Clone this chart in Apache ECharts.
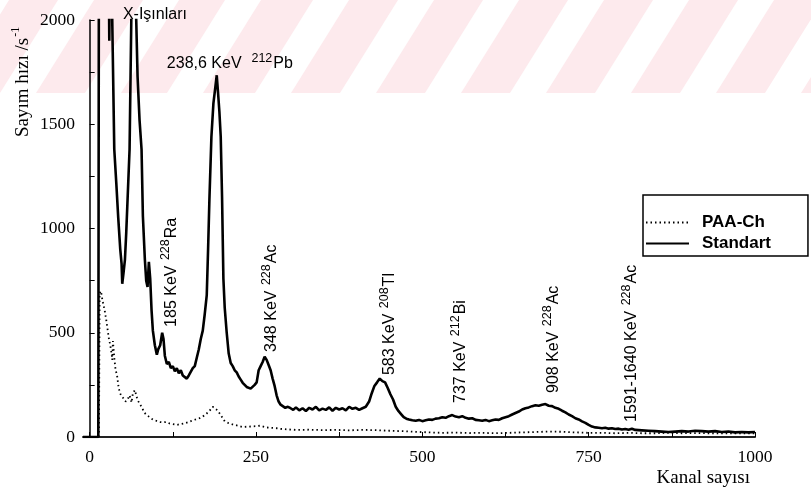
<!DOCTYPE html>
<html>
<head>
<meta charset="utf-8">
<script src="https://cdn.jsdelivr.net/npm/echarts@6/dist/echarts.min.js"></script>
<style>
html,body{margin:0;padding:0;background:#fff;}
#c{width:811px;height:494px;}
</style>
</head>
<body>
<div id="c"></div>
<script>
// ---- Data ----
const seriesNames = ['PAA-Ch', 'Standart'];
const xTickLabels = [0, 250, 500, 750, 1000];
const xTickMarks = [0, 125, 250, 375, 500, 625, 750, 875, 1000];

// Standart spectrum: channel, count rate (values above 2000 are off the chart)
const stdChannels = [-10,13,14,28,29.5,31,34,37,40,43,46,48,49,51,53,55,57,60,63,66,69,70,72,75,78,80,83,85,87,89,90,91,93,95,98,101,103,106,109,111,113,116,119,122,125,128,131,134,137,140,143,146,149,152,155,158,161,164,167,170,173,176,178,180,183,186,189,191,193,195,197,199,201,203,206,209,212,215,218,221,224,227,230,233,236,239,242,245,248,251,254,257,260,263,266,269,272,275,278,281,284,287,290,294,298,302,306,310,315,320,325,330,335,340,345,350,355,360,365,370,375,380,385,390,395,400,405,410,415,420,424,428,432,436,440,444,448,452,456,460,464,468,472,476,480,485,490,495,500,505,510,515,520,525,530,535,540,545,550,555,560,565,570,575,580,585,590,595,600,605,610,615,620,625,630,635,640,645,650,655,660,665,670,675,680,685,690,695,700,705,710,715,720,725,730,735,740,745,750,755,760,765,770,775,780,785,790,795,800,805,810,815,820,830,840,850,860,870,880,890,900,910,920,930,940,950,960,970,980,990,1000];
const stdCounts = [0,0,2600,2600,1900,2600,2600,1380,1220,1050,900,830,735,790,850,980,1140,1380,2100,2600,2600,2000,1730,1520,1380,1060,850,750,720,840,800,760,610,510,440,395,420,440,500,470,390,350,360,330,340,315,330,305,320,295,300,280,295,300,330,340,380,420,470,510,590,680,900,1140,1440,1600,1680,1735,1650,1560,1440,1150,760,620,500,400,355,340,320,310,290,275,260,250,240,245,232,240,250,262,320,340,360,385,370,345,320,280,245,200,170,155,150,140,145,138,130,142,128,138,125,140,132,145,128,136,130,142,126,140,132,138,128,145,135,140,130,138,145,170,210,245,262,280,268,262,235,205,180,145,125,110,95,88,84,80,78,82,76,80,84,82,88,90,95,92,100,105,98,95,100,92,88,90,82,80,78,82,76,80,84,82,90,95,100,108,115,122,132,138,142,148,152,150,155,158,150,148,140,135,126,118,108,100,90,84,75,68,58,50,46,44,42,44,40,42,38,40,36,38,35,40,34,32,30,28,26,24,26,28,26,30,28,26,28,24,26,22,24,22,24];

// PAA-Ch spectrum: channel, count rate
const paaChannels = [14,15,17,19,21,23,25,27,29,31,33,34,35,36,37,39,41,43,45,48,51,54,57,60,63,65,68,70,72,75,78,81,84,88,92,96,100,105,110,115,120,125,131,137,143,149,155,160,165,170,175,180,185,188,192,196,200,203,208,215,222,230,240,250,256,265,273,281,290,300,311,330,350,370,390,410,430,450,470,490,510,530,550,570,590,610,630,650,670,690,710,730,750,770,790,810,830,850,870,890,910,930,950,970,990,1000];
const paaCounts = [0,690,700,660,630,600,560,515,470,440,400,370,460,420,380,320,300,250,215,195,185,170,180,200,165,210,225,200,178,160,145,125,110,100,90,82,78,72,70,72,65,62,58,62,66,72,80,85,90,98,110,125,145,138,128,110,90,75,68,60,55,48,50,52,54,46,44,42,38,36,34,35,33,34,32,34,33,30,28,25,22,20,21,19,20,18,20,22,24,26,25,22,20,20,18,20,18,18,20,18,19,18,18,17,18,18];

// Peak annotations: text parts and anchor (channel, count rate)
const annMain = ['185 KeV ', '348 KeV ', '583 KeV ', '737 KeV ', '908 KeV ', '1591-1640 KeV '];
const annIso  = ['228', '228', '208', '212', '228', '228'];
const annElem = ['Ra', 'Ac', 'Tl', 'Bi', 'Ac', 'Ac'];
const annCh   = [120, 271, 448, 555, 694, 812];
const annVal  = [528, 408, 297, 163, 211, 72];

const pbLabel = {main: '238,6 KeV  ', iso: '212', elem: 'Pb', ch: 116, val: 1800};
const xrayLabel = {text: 'X-Işınları', ch: 50, val: 2024};

const yTitle = 'Sayım hızı /s';
const xTitle = 'Kanal sayısı';

// ---- Build chart ----
const zip = (a, b) => a.map((v, i) => [v, b[i]]);
const chart = echarts.init(document.getElementById('c'), null, {renderer: 'canvas'});

const serif = 'Liberation Serif';
const sans = 'Liberation Sans';
const richAnn = {
  m: {fontFamily: sans, fontSize: 16, color: '#000', verticalAlign: 'bottom', lineHeight: 20},
  s: {fontFamily: sans, fontSize: 12.5, color: '#000', verticalAlign: 'top', lineHeight: 12, padding: [0, 1, 0, 1]}
};

const option = {
  backgroundColor: '#fff',
  animation: false,
  grid: {left: 83, right: 56, top: 20, bottom: 57},
  legend: {
    orient: 'vertical', left: 643, top: 195,
    padding: [19, 37, 4, 2], itemWidth: 43, itemHeight: 14, itemGap: 4,
    borderColor: '#000', borderWidth: 1.5,
    itemStyle: {opacity: 0, borderWidth: 0},
    textStyle: {fontFamily: sans, fontSize: 17, fontWeight: 'bold', color: '#000', padding: [0, 0, 0, 8]},
    data: seriesNames
  },
  xAxis: {
    type: 'value', min: -10, max: 1000,
    axisLine: {show: true, lineStyle: {color: '#222', width: 2}},
    axisTick: {show: true, inside: true, length: 5, customValues: xTickMarks, lineStyle: {color: '#000'}},
    axisLabel: {customValues: xTickLabels, fontFamily: serif, fontSize: 17.5, color: '#000', margin: 11, formatter: v => String(v)},
    splitLine: {show: false}
  },
  yAxis: {
    type: 'value', min: 0, max: 2000, interval: 500,
    axisLine: {show: true, lineStyle: {color: '#000', width: 1.5}},
    axisTick: {show: true, inside: true, length: 5, lineStyle: {color: '#000'}},
    minorTick: {show: true, splitNumber: 2, length: 5, lineStyle: {color: '#000'}},
    axisLabel: {fontFamily: serif, fontSize: 17.5, color: '#000', margin: 8, formatter: v => String(v)},
    splitLine: {show: false}
  },
  series: [
    {
      name: seriesNames[0], type: 'line', showSymbol: false, symbol: 'none',
      data: zip(paaChannels, paaCounts),
      lineStyle: {color: '#000', width: 1.8, type: [1.5, 3]},
      itemStyle: {color: '#000'}, z: 3
    },
    {
      name: seriesNames[1], type: 'line', showSymbol: false, symbol: 'none',
      data: zip(stdChannels, stdCounts),
      lineStyle: {color: '#000', width: 2.6},
      itemStyle: {color: '#000'}, z: 4
    }
  ]
};
chart.setOption(option);

// ---- Decorative background watermark + annotations (positioned through the axes) ----
const graphics = [];
graphics.push({type: 'rect', z: -10, silent: true, shape: {x: 0, y: 0, width: 811, height: 93}, style: {fill: '#fdeaed'}});
const stripeTops = [-27, 58, 143, 225, 313, 398, 483, 568, 653, 738, 823];
stripeTops.forEach(t => {
  graphics.push({type: 'polygon', z: -9, silent: true,
    shape: {points: [[t, 0], [t + 36, 0], [t + 36 - 58, 93], [t - 58, 93]]},
    style: {fill: '#ffffff'}});
});

annMain.forEach((m, i) => {
  const p = chart.convertToPixel({gridIndex: 0}, [annCh[i], annVal[i]]);
  graphics.push({
    type: 'text', x: p[0], y: p[1], rotation: Math.PI / 2, z: 10,
    style: {text: '{m|' + m + '}{s|' + annIso[i] + '}{m|' + annElem[i] + '}', rich: richAnn, align: 'left', verticalAlign: 'middle'}
  });
});
{
  const p = chart.convertToPixel({gridIndex: 0}, [pbLabel.ch, pbLabel.val]);
  graphics.push({type: 'text', x: p[0], y: p[1], z: 10,
    style: {text: '{m|' + pbLabel.main + '}{s|' + pbLabel.iso + '}{m|' + pbLabel.elem + '}', rich: richAnn, align: 'left', verticalAlign: 'middle'}});
  const q = chart.convertToPixel({gridIndex: 0}, [xrayLabel.ch, xrayLabel.val]);
  graphics.push({type: 'text', x: q[0], y: q[1], z: 10,
    style: {text: xrayLabel.text, fontFamily: sans, fontSize: 16, fill: '#000', align: 'left', verticalAlign: 'middle'}});
}
// axis titles
graphics.push({type: 'text', x: 21, y: 137, rotation: Math.PI / 2, z: 10,
  style: {text: '{t|' + yTitle + '}{u|-1}', align: 'left', verticalAlign: 'middle',
    rich: {t: {fontFamily: serif, fontSize: 19, color: '#000', verticalAlign: 'bottom', lineHeight: 23},
           u: {fontFamily: serif, fontSize: 12, color: '#000', verticalAlign: 'top', lineHeight: 12, padding: [0, 0, 0, 1]}}}});
graphics.push({type: 'text', x: 750, y: 478, z: 10,
  style: {text: xTitle, fontFamily: serif, fontSize: 19, fill: '#000', align: 'right', verticalAlign: 'middle'}});

chart.setOption({graphic: graphics});
</script>
</body>
</html>
